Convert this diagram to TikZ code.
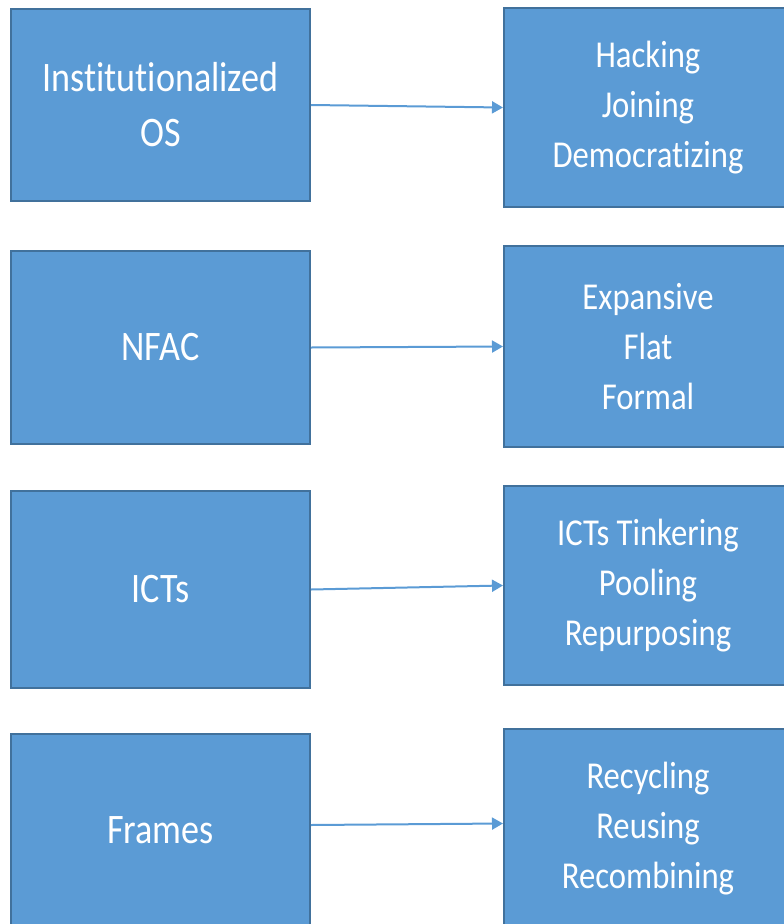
\documentclass[tikz,border=0pt]{standalone}
\usepackage{fontspec}
\setmainfont[FakeStretch=0.86,Ligatures=NoCommon]{Carlito}
\usepackage{tikz}
\usetikzlibrary{arrows.meta}
\definecolor{boxfill}{HTML}{5B9BD5}
\definecolor{boxline}{HTML}{41719C}

\begin{document}
\begin{tikzpicture}[x=1pt,y=-1pt,
		blockbox/.style={rectangle,draw=boxline,line width=2pt,fill=boxfill,text=white,
			align=center,inner sep=0pt},
		leftbox/.style={blockbox,minimum width=299pt,font=\fontsize{42}{55}\selectfont},
		rightbox/.style={blockbox,minimum width=288pt,font=\fontsize{38}{50}\selectfont},
		link/.style={draw=boxfill,line width=2pt,-{Triangle[length=11pt,width=12pt]}}]
			\useasboundingbox (0,0) rectangle (784,924);
			\clip (0,0) rectangle (784,924);
			
			% row 1
			
			\node[leftbox,minimum height=192pt] (inst) at (160.5,105) {Institutionalized\\OS};
			\node[rightbox,minimum height=199pt] (hack) at (648,107.5) {Hacking\\Joining\\Democratizing};
			\draw[link] (inst.east) -- (hack.west);
			
			% row 2
			
			\node[leftbox,minimum height=193pt] (nfac) at (160.5,347.5) {NFAC};
			\node[rightbox,minimum height=201pt] (exp) at (648,346.5) {Expansive\\Flat\\Formal};
			\draw[link] (nfac.east) -- (exp.west);
			
			% row 3
			
			\node[leftbox,minimum height=197pt] (icts) at (160.5,589.5) {ICTs};
			\node[rightbox,minimum height=199pt] (tink) at (648,585.5) {ICTs Tinkering\\Pooling\\Repurposing};
			\draw[link] (icts.east) -- (tink.west);
			
			% row 4
			
			\node[leftbox,minimum height=192pt] (frm) at (160.5,830) {Frames};
			\node[rightbox,minimum height=199pt] (rec) at (648,828.5) {Recycling\\Reusing\\Recombining};
			\draw[link] ([yshift=5pt]frm.east) -- ([yshift=5pt]rec.west);
		\end{tikzpicture}
\end{document}
